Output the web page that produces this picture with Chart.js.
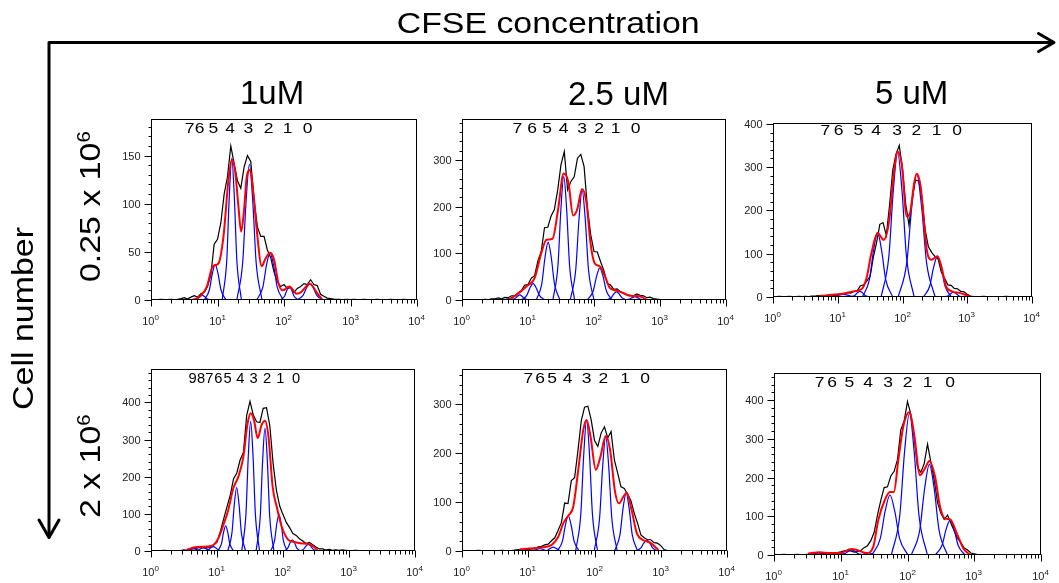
<!DOCTYPE html>
<html>
<head>
<meta charset="utf-8">
<script src="https://cdn.jsdelivr.net/npm/chart.js@4.4.1/dist/chart.umd.min.js"></script>
<style>
  html, body { margin: 0; padding: 0; background: #fff; }
  #fig { position: relative; width: 1059px; height: 583px; overflow: hidden; font-family: Arial, "Liberation Sans", sans-serif; }
  #fig canvas { position: absolute; }
  #overlay { position: absolute; left: 0; top: 0; }
  #overlay text { font-family: Arial, "Liberation Sans", sans-serif; fill: #000; }
</style>
</head>
<body>
<div id="fig">
  <svg id="overlay" width="1059" height="583">
    <g fill="none" stroke="#000" stroke-width="3" stroke-linecap="round" stroke-linejoin="round">
      <polyline points="49,537 49,42.5 1053,42.5"/>
      <polyline points="1038.5,33.5 1054,42.5 1038.5,51.5"/>
      <polyline points="39,520 49,537.5 59,520"/>
    </g>
    <text x="396.7" y="33.3" font-size="30" textLength="303" lengthAdjust="spacingAndGlyphs">CFSE concentration</text>
    <text x="240" y="104" font-size="33">1uM</text>
    <text x="568" y="104.5" font-size="33">2.5 uM</text>
    <text x="875" y="103.5" font-size="33">5 uM</text>
    <text transform="translate(33.3,318.5) rotate(-90)" text-anchor="middle" font-size="30" textLength="183" lengthAdjust="spacingAndGlyphs">Cell number</text>
    <text transform="translate(100,282) rotate(-90) scale(1.13,1)" font-size="30">0.25 x 10<tspan dy="-10" font-size="18">6</tspan></text>
    <text transform="translate(100,518) rotate(-90) scale(1.13,1)" font-size="30">2 x 10<tspan dy="-10" font-size="18">6</tspan></text>
    <g id="genLabels"></g>
  </svg>
</div>
<script>
// x values are log10 of CFSE fluorescence (axis shows 10^0 .. 10^4)
const channels = [
  0.00, 0.05, 0.10, 0.15, 0.20, 0.25, 0.30, 0.35, 0.40, 0.45,
  0.50, 0.55, 0.60, 0.65, 0.70, 0.75, 0.80, 0.85, 0.90, 0.95,
  1.00, 1.05, 1.10, 1.15, 1.20, 1.25, 1.30, 1.35, 1.40, 1.45,
  1.50, 1.55, 1.60, 1.65, 1.70, 1.75, 1.80, 1.85, 1.90, 1.95,
  2.00, 2.05, 2.10, 2.15, 2.20, 2.25, 2.30, 2.35, 2.40, 2.45,
  2.50, 2.55, 2.60, 2.65, 2.70, 2.75, 2.80, 2.85, 2.90, 2.95,
  3.00, 3.05, 3.10, 3.15, 3.20, 3.25, 3.30, 3.35, 3.40, 3.45,
  3.50, 3.55, 3.60, 3.65, 3.70, 3.75, 3.80, 3.85, 3.90, 3.95,
  4.00
];
const decadeLabels = ["0", "1", "2", "3", "4"];

// ---- 1uM, 0.25 x 10^6 ----
const p1Black = [
  0.5, 0.5, 0.5, 0.6, 0.5, 0.5, 0.6, 0.5, 0.8, 1.5,
  2.5, 1, 3, 4.5, 3, 6.5, 8, 14, 26, 58,
  63, 80, 110, 128, 160, 142, 124, 116, 138, 150,
  144, 104, 76, 66, 66, 52, 44, 29, 19, 14,
  16, 12, 13, 8, 12, 14, 17, 16, 21, 16,
  15, 6, 4, 2, 1.5, 1, 0.8, 0.6, 0.5, 0.6,
  0.5, 0.6, 0.5, 0.5, 0.6, 0.5, 0.5, 0.5, 0.6, 0.5,
  0.5, 0.5, 0.6, 0.5, 0.5, 0.5, 0.6, 0.5, 0.5, 0.5,
  0.5
];
const p1RedX = [0.615, 0.74, 0.84, 0.93, 1.015, 1.09, 1.165, 1.215, 1.265, 1.315, 1.355, 1.40, 1.44, 1.49, 1.54, 1.59, 1.665, 1.715, 1.79, 1.85, 1.915, 1.98, 2.08, 2.19, 2.24, 2.39, 2.49, 2.58];
const p1RedY = [0, 3.8, 14, 35, 38, 66, 125, 146, 134, 97, 71, 94, 128, 135, 111, 73, 35, 42, 49, 42, 18, 10, 14, 6.6, 7.3, 17, 8, 0];
const p1Blue = [
  [[0.635, 0.698, 0.734, 0.77, 0.806, 0.842, 0.905], [0, 1.4, 3.6, 5, 3.6, 1.4, 0]],
  [[0.80, 0.877, 0.921, 0.965, 1.009, 1.053, 1.13], [0, 10.4, 27, 37, 27, 10.4, 0]],
  [[1.07, 1.139, 1.177, 1.215, 1.253, 1.291, 1.36], [0, 41, 107, 147, 107, 41, 0]],
  [[1.29, 1.379, 1.43, 1.48, 1.53, 1.581, 1.67], [0, 39, 103, 141, 103, 39, 0]],
  [[1.59, 1.683, 1.736, 1.79, 1.844, 1.897, 1.99], [0, 13.7, 36, 49, 36, 13.7, 0]],
  [[1.945, 2.008, 2.044, 2.08, 2.116, 2.152, 2.215], [0, 3.9, 10.2, 14, 10.2, 3.9, 0]],
  [[2.195, 2.286, 2.338, 2.39, 2.442, 2.494, 2.585], [0, 4.8, 12.4, 17, 12.4, 4.8, 0]]
];

// ---- 2.5uM, 0.25 x 10^6 ----
const p2Black = [
  0.5, 0.5, 0.6, 0.5, 0.5, 0.6, 0.5, 1.2, 1, 2.5,
  2.5, 4.5, 2.5, 5.5, 5, 9, 9, 15, 20, 32,
  33, 47, 52, 84, 104, 155, 156, 180, 194, 236,
  290, 318, 236, 254, 264, 304, 312, 286, 198, 140,
  104, 103, 82, 63, 36, 32, 23, 24, 18, 15,
  11, 10, 9, 13, 10, 9, 5, 6, 3, 2,
  1, 0.6, 0.5, 0.6, 0.5, 0.5, 0.6, 0.5, 0.5, 0.5,
  0.6, 0.5, 0.5, 0.5, 0.6, 0.5, 0.5, 0.5, 0.5, 0.6,
  0.5
];
const p2RedX = [0.70, 0.824, 0.976, 1.10, 1.20, 1.28, 1.37, 1.456, 1.54, 1.61, 1.684, 1.745, 1.82, 1.886, 1.947, 2.01, 2.09, 2.165, 2.24, 2.34, 2.44, 2.54, 2.695, 2.80];
const p2RedY = [0, 11, 29, 47, 100, 129, 131, 194, 271, 254, 181, 194, 238, 208, 122, 79, 72, 51, 26, 20, 15, 9, 8, 0];
const p2Blue = [
  [[0.585, 0.648, 0.684, 0.72, 0.756, 0.792, 0.855], [0, 0.8, 2.2, 3, 2.2, 0.8, 0]],
  [[0.74, 0.803, 0.839, 0.875, 0.911, 0.947, 1.01], [0, 3.1, 8, 11, 8, 3.1, 0]],
  [[0.897, 0.981, 1.029, 1.077, 1.125, 1.173, 1.257], [0, 9.8, 25.6, 35, 25.6, 9.8, 0]],
  [[1.125, 1.209, 1.257, 1.305, 1.353, 1.401, 1.485], [0, 34.7, 90.5, 124, 90.5, 34.7, 0]],
  [[1.377, 1.454, 1.498, 1.542, 1.586, 1.63, 1.707], [0, 74, 193.5, 265, 193.5, 74, 0]],
  [[1.64, 1.724, 1.772, 1.82, 1.868, 1.916, 2.0], [0, 66, 172, 236, 172, 66, 0]],
  [[1.898, 1.988, 2.038, 2.088, 2.138, 2.188, 2.278], [0, 19.3, 50, 69, 50, 19.3, 0]],
  [[2.191, 2.261, 2.301, 2.341, 2.381, 2.421, 2.491], [0, 5, 13, 18, 13, 5, 0]],
  [[2.47, 2.54, 2.58, 2.62, 2.66, 2.70, 2.77], [0, 2, 5, 7, 5, 2, 0]]
];

// ---- 5uM, 0.25 x 10^6 ----
const p3Black = [
  1, 1, 1.5, 1, 1, 1.5, 1, 1, 1.5, 1,
  1.5, 1, 2, 2, 3, 4, 3, 4, 5, 4,
  6, 7.5, 7, 10, 9, 13, 14, 26, 28, 37,
  48, 92, 126, 168, 172, 142, 212, 294, 330, 350,
  296, 214, 166, 228, 270, 268, 230, 155, 116, 103,
  94, 88, 57, 43, 28, 27, 20, 19, 13, 12,
  6, 2, 1, 1, 1, 1.5, 1, 1, 1, 1,
  1, 1, 1.5, 1, 1, 1, 1, 1, 1, 1,
  1
];
const p3RedX = [0.70, 0.88, 1.08, 1.24, 1.37, 1.445, 1.52, 1.615, 1.71, 1.796, 1.86, 1.925, 1.99, 2.065, 2.116, 2.18, 2.22, 2.28, 2.375, 2.45, 2.54, 2.60, 2.67, 2.76, 2.89, 3.035];
const p3RedY = [1.5, 4.6, 7.7, 13, 18.5, 44, 101.5, 148, 132, 178, 278, 336, 305, 186, 194, 263, 285, 255, 109, 86, 94, 71, 25, 13, 9, 1.5];
const p3Blue = [
  [[0.56, 0.672, 0.736, 0.8, 0.864, 0.928, 1.04], [0, 0.8, 2.2, 3, 2.2, 0.8, 0]],
  [[0.844, 0.956, 1.02, 1.084, 1.148, 1.212, 1.324], [0, 1.7, 4.4, 6, 4.4, 1.7, 0]],
  [[1.192, 1.262, 1.302, 1.342, 1.382, 1.422, 1.492], [0, 3.6, 9.5, 13, 9.5, 3.6, 0]],
  [[1.381, 1.49, 1.553, 1.615, 1.677, 1.74, 1.849], [0, 41, 108, 148, 108, 41, 0]],
  [[1.67, 1.789, 1.857, 1.925, 1.993, 2.061, 2.18], [0, 93.5, 244, 334, 244, 93.5, 0]],
  [[1.934, 2.067, 2.143, 2.219, 2.295, 2.371, 2.504], [0, 80, 208, 285, 208, 80, 0]],
  [[2.32, 2.422, 2.481, 2.539, 2.597, 2.656, 2.758], [0, 26, 69, 94, 69, 26, 0]],
  [[2.637, 2.707, 2.747, 2.787, 2.827, 2.867, 2.937], [0, 3, 8, 11, 8, 3, 0]]
];

// ---- 1uM, 2 x 10^6 ----
const p4Black = [
  1, 1, 1, 1, 1.5, 1, 1, 1, 1, 1,
  3, 2, 4, 6.5, 7.5, 10.5, 8.5, 8.5, 9.5, 16,
  24, 52, 86, 118, 150, 194, 210, 245, 265, 365,
  403, 366, 348, 346, 384, 386, 338, 236, 164, 121,
  98, 77, 63, 47, 42, 33, 27, 20, 23, 17,
  11, 5.5, 5.5, 2.5, 4.5, 2, 3, 2, 3, 2,
  1, 1, 2, 1, 1, 1, 1, 1, 1, 1,
  1, 1, 1, 1, 1, 1, 1, 1, 1, 1,
  1
];
const p4RedX = [0.54, 0.667, 0.843, 0.944, 1.02, 1.096, 1.17, 1.247, 1.323, 1.40, 1.46, 1.51, 1.56, 1.616, 1.677, 1.727, 1.78, 1.843, 1.904, 1.98, 2.08, 2.157, 2.258, 2.384, 2.46, 2.535];
const p4RedY = [3, 10, 12, 16, 34, 70, 110, 169, 200, 254, 340, 371, 353, 304, 340, 351, 308, 173, 120, 66, 30, 25, 21, 19, 12, 0];
const p4Blue = [
  [[0.506, 0.569, 0.605, 0.641, 0.677, 0.713, 0.776], [0, 2, 5, 7, 5, 2, 0]],
  [[0.658, 0.721, 0.757, 0.793, 0.829, 0.865, 0.928], [0, 2.5, 6.6, 9, 6.6, 2.5, 0]],
  [[0.809, 0.872, 0.908, 0.944, 0.98, 1.016, 1.079], [0, 3.4, 8.8, 12, 8.8, 3.4, 0]],
  [[1.011, 1.067, 1.099, 1.131, 1.163, 1.195, 1.251], [0, 19, 50, 68, 50, 19, 0]],
  [[1.163, 1.226, 1.262, 1.298, 1.334, 1.37, 1.433], [0, 48, 125, 171, 125, 48, 0]],
  [[1.375, 1.438, 1.474, 1.51, 1.546, 1.582, 1.645], [0, 98, 255, 349, 255, 98, 0]],
  [[1.592, 1.655, 1.691, 1.727, 1.763, 1.799, 1.862], [0, 93, 242, 331, 242, 93, 0]],
  [[1.813, 1.872, 1.905, 1.939, 1.973, 2.006, 2.065], [0, 28, 72, 99, 72, 28, 0]],
  [[2.015, 2.074, 2.107, 2.141, 2.175, 2.208, 2.267], [0, 8.4, 22, 30, 22, 8.4, 0]],
  [[2.249, 2.312, 2.348, 2.384, 2.42, 2.456, 2.519], [0, 5, 13, 18, 13, 5, 0]]
];

// ---- 2.5uM, 2 x 10^6 ----
const p5Black = [
  1, 1, 1, 1, 1, 1.5, 1, 1, 1, 1,
  1, 1, 1.5, 1, 1, 1, 2, 3, 2, 4,
  3, 4.5, 4.5, 8.5, 9.5, 12.5, 14, 21, 27, 42,
  58, 98, 97, 144, 150, 205, 266, 294, 296, 268,
  226, 214, 241, 254, 231, 244, 186, 159, 131, 128,
  116, 103, 77, 57, 33, 27, 23, 23, 17, 16,
  11, 3, 1, 1, 1, 1, 1, 1, 1, 1,
  1, 1, 1, 1, 1, 1, 1, 1, 1, 1,
  1
];
const p5RedX = [0.873, 1.074, 1.226, 1.35, 1.453, 1.53, 1.604, 1.68, 1.755, 1.83, 1.88, 1.94, 2.02, 2.09, 2.17, 2.235, 2.31, 2.37, 2.436, 2.487, 2.56, 2.64, 2.73, 2.84, 2.966];
const p5RedY = [3.4, 5.5, 7.5, 12, 29, 57, 72, 91, 166, 247, 268, 234, 166, 193, 235, 207, 121, 97.5, 111, 119, 84, 36, 22.5, 17, 2];
const p5Blue = [
  [[0.8, 0.87, 0.91, 0.95, 0.99, 1.03, 1.1], [0, 0.8, 2.2, 3, 2.2, 0.8, 0]],
  [[1.025, 1.095, 1.135, 1.175, 1.215, 1.255, 1.325], [0, 1.4, 3.6, 5, 3.6, 1.4, 0]],
  [[1.227, 1.297, 1.337, 1.377, 1.417, 1.457, 1.527], [0, 2.2, 5.8, 8, 5.8, 2.2, 0]],
  [[1.439, 1.516, 1.56, 1.604, 1.648, 1.692, 1.769], [0, 20, 52.5, 72, 52.5, 20, 0]],
  [[1.716, 1.793, 1.837, 1.881, 1.925, 1.969, 2.046], [0, 75, 196, 268, 196, 75, 0]],
  [[1.995, 2.076, 2.123, 2.169, 2.215, 2.262, 2.343], [0, 66, 172, 235, 172, 66, 0]],
  [[2.303, 2.384, 2.431, 2.477, 2.523, 2.57, 2.651], [0, 33, 87, 119, 87, 33, 0]],
  [[2.624, 2.701, 2.745, 2.789, 2.833, 2.877, 2.954], [0, 6.3, 16.4, 22.5, 16.4, 6.3, 0]]
];

// ---- 5uM, 2 x 10^6 ----
const p6Black = [
  1.5, 1, 1, 1.5, 1, 1, 1, 1.5, 1, 1,
  1.5, 1, 2, 1.5, 3, 4, 3, 5, 4, 6,
  8, 10.5, 11.5, 10.5, 7.5, 8.5, 11.5, 19, 24, 37,
  58, 103, 141, 174, 176, 204, 216, 246, 324, 346,
  396, 364, 304, 226, 214, 236, 286, 240, 194, 136,
  108, 92, 103, 82, 62, 43, 32, 18, 13, 5,
  3, 1, 1, 1, 1, 1, 1, 1, 1, 1,
  1, 1, 1, 1, 1, 1, 1, 1, 1, 1,
  1
];
const p6RedX = [0.51, 0.686, 0.836, 0.986, 1.16, 1.26, 1.387, 1.487, 1.562, 1.66, 1.737, 1.797, 1.862, 1.937, 2.028, 2.098, 2.188, 2.263, 2.328, 2.413, 2.488, 2.563, 2.64, 2.74, 2.84, 2.94];
const p6RedY = [3.5, 7, 5, 5, 15.5, 12, 5, 21, 90, 142, 163, 163, 245, 332, 369, 314, 206, 224, 243, 202, 124, 94, 92, 55, 16, 0];
const p6Blue = [
  [[0.476, 0.574, 0.63, 0.686, 0.742, 0.798, 0.896], [0, 1.7, 4.4, 6, 4.4, 1.7, 0]],
  [[0.806, 0.89, 0.938, 0.986, 1.034, 1.082, 1.166], [0, 1.1, 2.9, 4, 2.9, 1.1, 0]],
  [[0.981, 1.065, 1.113, 1.161, 1.209, 1.257, 1.341], [0, 3.6, 9.5, 13, 9.5, 3.6, 0]],
  [[1.262, 1.332, 1.372, 1.412, 1.452, 1.492, 1.562], [0, 1.7, 4.4, 6, 4.4, 1.7, 0]],
  [[1.467, 1.593, 1.665, 1.737, 1.809, 1.881, 2.007], [0, 43, 113, 155, 113, 43, 0]],
  [[1.758, 1.884, 1.956, 2.028, 2.1, 2.172, 2.298], [0, 102, 267, 366, 267, 102, 0]],
  [[2.058, 2.184, 2.256, 2.328, 2.4, 2.472, 2.598], [0, 65, 171, 234, 171, 65, 0]],
  [[2.413, 2.518, 2.578, 2.638, 2.698, 2.758, 2.863], [0, 25, 66, 90, 66, 25, 0]]
];

// generation numbers printed above each histogram
const gens8 = ["7", "6", "5", "4", "3", "2", "1", "0"];
const gens10 = ["9", "8", "7", "6", "5", "4", "3", "2", "1", "0"];

// layout of the six panels (plot area in page pixels)
const panels = [
  { left: 151, top: 119, w: 266, h: 181, yMax: 188, major: 50, minor: 10, black: p1Black, redX: p1RedX, redY: p1RedY, blue: p1Blue,
    gens: gens8, genX: [189.7, 199.5, 213.3, 230, 248.3, 268.7, 287.7, 307.7], genY: 133, genScale: 1.25 },
  { left: 462, top: 119, w: 264, h: 181, yMax: 388, major: 100, minor: 20, black: p2Black, redX: p2RedX, redY: p2RedY, blue: p2Blue,
    gens: gens8, genX: [517.3, 532, 547, 563.7, 582, 599, 615.7, 635.7], genY: 133, genScale: 1.25 },
  { left: 773, top: 123, w: 259, h: 174, yMax: 402, major: 100, minor: 20, black: p3Black, redX: p3RedX, redY: p3RedY, blue: p3Blue,
    gens: gens8, genX: [825.3, 838.7, 858.3, 876, 897, 916.3, 936.7, 957], genY: 135.3, genScale: 1.25 },
  { left: 151, top: 369, w: 264, h: 182, yMax: 490, major: 100, minor: 20, black: p4Black, redX: p4RedX, redY: p4RedY, blue: p4Blue,
    gens: gens10, genX: [192.7, 201, 209.3, 218.3, 227.7, 240.3, 253.7, 267, 280.3, 296], genY: 383, genScale: 1.05 },
  { left: 462, top: 369, w: 265, h: 182, yMax: 372, major: 100, minor: 20, black: p5Black, redX: p5RedX, redY: p5RedY, blue: p5Blue,
    gens: gens8, genX: [528.3, 540, 552, 567.7, 586.7, 603.3, 625, 645], genY: 383, genScale: 1.25 },
  { left: 774, top: 373, w: 267, h: 182, yMax: 470, major: 100, minor: 20, black: p6Black, redX: p6RedX, redY: p6RedY, blue: p6Blue,
    gens: gens8, genX: [819.7, 832, 849.3, 868, 888, 907.7, 927.7, 950], genY: 387.3, genScale: 1.25 }
];

const PAD = { left: 45, top: 10, right: 20, bottom: 30 };

function toPoints(xs, ys) {
  return xs.map((x, i) => ({ x: x, y: ys[i] }));
}

// box, outward ticks and 10^n labels, the way the cytometry software draws them
const cytoAxes = {
  id: "cytoAxes",
  afterDraw(chart, args, opts) {
    const { ctx, chartArea: a } = chart;
    const xs = chart.scales.x, ys = chart.scales.y;
    const L = Math.round(a.left) + 0.5, R = Math.round(a.right) - 0.5;
    const T = Math.round(a.top) + 0.5, B = Math.round(a.bottom) - 0.5;
    ctx.save();
    ctx.strokeStyle = "#000";
    ctx.lineWidth = 1;
    ctx.strokeRect(L, T, R - L, B - T);

    ctx.fillStyle = "#222";
    ctx.font = "11px Arial, 'Liberation Sans', sans-serif";
    ctx.textAlign = "right";
    ctx.textBaseline = "middle";
    ctx.beginPath();
    for (let v = 0; v <= ys.max; v += opts.minor) {
      const py = Math.round(ys.getPixelForValue(v)) + 0.5;
      const isMajor = v % opts.major === 0;
      ctx.moveTo(L - (isMajor ? 7 : 3), py);
      ctx.lineTo(L, py);
      if (isMajor) ctx.fillText(String(v), L - 11, py);
    }
    ctx.stroke();

    ctx.beginPath();
    decadeLabels.forEach((lab, k) => {
      const px = Math.round(xs.getPixelForValue(k)) + 0.5;
      ctx.moveTo(px, B);
      ctx.lineTo(px, B + 7);
      if (k < decadeLabels.length - 1) {
        for (let m = 2; m <= 9; m++) {
          const mx = Math.round(xs.getPixelForValue(k + Math.log10(m))) + 0.5;
          ctx.moveTo(mx, B);
          ctx.lineTo(mx, B + 4);
        }
      }
      ctx.font = "11px Arial, 'Liberation Sans', sans-serif";
      const wBase = ctx.measureText("10").width;
      ctx.font = "8px Arial, 'Liberation Sans', sans-serif";
      const wSup = ctx.measureText(lab).width;
      const x0 = px - (wBase + wSup) / 2 - 1;
      ctx.textAlign = "left";
      ctx.textBaseline = "alphabetic";
      ctx.font = "11px Arial, 'Liberation Sans', sans-serif";
      ctx.fillText("10", x0, B + 25);
      ctx.font = "8px Arial, 'Liberation Sans', sans-serif";
      ctx.fillText(lab, x0 + wBase, B + 20);
    });
    ctx.stroke();
    ctx.restore();
  }
};

function renderPanel(p) {
  const canvas = document.createElement("canvas");
  const cw = p.w + PAD.left + PAD.right;
  const ch = p.h + PAD.top + PAD.bottom;
  canvas.width = cw;
  canvas.height = ch;
  canvas.style.left = (p.left - PAD.left) + "px";
  canvas.style.top = (p.top - PAD.top) + "px";
  canvas.style.width = cw + "px";
  canvas.style.height = ch + "px";
  document.getElementById("fig").insertBefore(canvas, document.getElementById("overlay"));

  const datasets = [];
  datasets.push({
    data: toPoints(p.redX, p.redY),
    borderColor: "#ff0000",
    borderWidth: 2,
    cubicInterpolationMode: "monotone",
    order: 0,
  });
  p.blue.forEach((c) => {
    datasets.push({
      data: toPoints(c[0], c[1]),
      borderColor: "#0000ff",
      borderWidth: 1.2,
      cubicInterpolationMode: "monotone",
      order: 1,
    });
  });
  datasets.push({
    data: toPoints(channels, p.black),
    borderColor: "#000000",
    borderWidth: 1.2,
    tension: 0,
    order: 2,
  });

  new Chart(canvas.getContext("2d"), {
    type: "line",
    data: { datasets: datasets },
    options: {
      responsive: false,
      animation: false,
      devicePixelRatio: 1,
      layout: { padding: PAD },
      elements: { point: { radius: 0 }, line: { fill: false } },
      plugins: {
        legend: { display: false },
        tooltip: { enabled: false },
        cytoAxes: { major: p.major, minor: p.minor },
      },
      scales: {
        x: { type: "linear", min: 0, max: 4, display: false },
        y: { type: "linear", min: 0, max: p.yMax, display: false },
      },
    },
    plugins: [cytoAxes],
  });

  // generation numbers as svg text
  const g = document.getElementById("genLabels");
  p.gens.forEach((txt, i) => {
    const t = document.createElementNS("http://www.w3.org/2000/svg", "text");
    t.setAttribute("transform", `translate(${p.genX[i]},${p.genY}) scale(${p.genScale},1)`);
    t.setAttribute("text-anchor", "middle");
    t.setAttribute("font-size", "14");
    t.textContent = txt;
    g.appendChild(t);
  });
}

panels.forEach(renderPanel);
</script>
</body>
</html>
